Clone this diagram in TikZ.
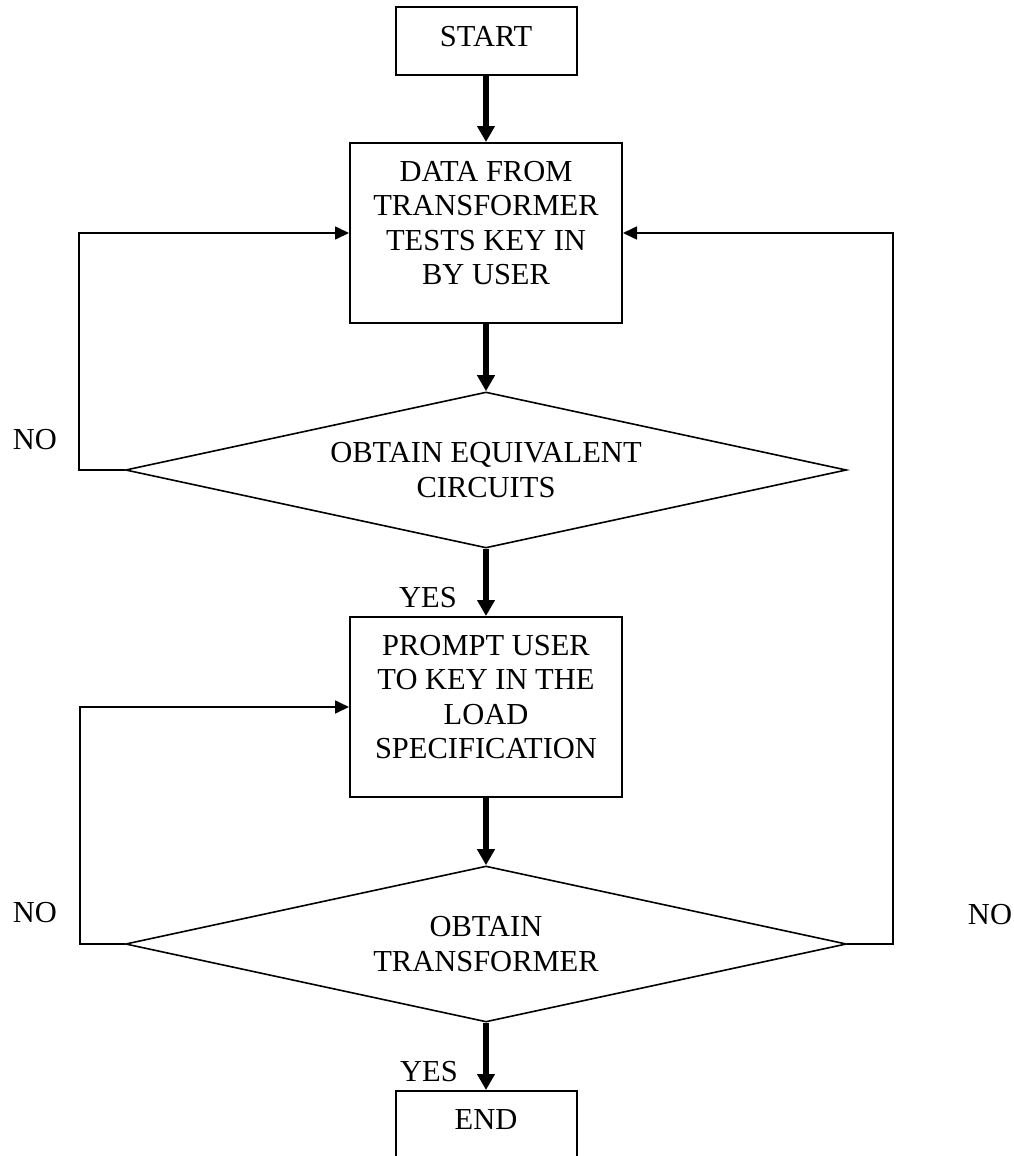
\documentclass[tikz,border=0pt]{standalone}
\usepackage{fontspec}
\setmainfont{Liberation Serif}
\usetikzlibrary{shapes.geometric,arrows.meta}
\newcommand{\dropby}[1]{\rule[-#1]{0pt}{#1}}
\begin{document}
\begin{tikzpicture}[x=1pt,y=-1pt,
  txt/.style={font=\fontsize{30.5}{34.5}\selectfont},
  box/.style={txt,draw,line width=2pt,inner sep=0pt,align=center},
  smallbox/.style={box,minimum width=181pt,minimum height=68pt},
  bigbox/.style={box,minimum width=272pt,minimum height=180pt},
  decision/.style={txt,draw,line width=1.6pt,diamond,aspect=4.62,inner sep=0pt,
    minimum width=721pt,minimum height=156pt,align=center},
  flow/.style={line width=6pt,-{Triangle[length=16pt,width=17pt]}},
  back/.style={line width=1.7pt,-{Triangle[length=14pt,width=13pt]}},
  lbl/.style={txt,inner sep=0pt}
]
\useasboundingbox (0,0) rectangle (1014,1156);

\node[smallbox] (start) at (486,41) {START\dropby{10pt}};
\node[bigbox] (data) at (486,233) {DATA FROM\\TRANSFORMER\\TESTS KEY IN\\BY USER\dropby{20pt}};
\node[decision] (d1) at (486,470) {OBTAIN EQUIVALENT\\CIRCUITS};
\node[bigbox] (prompt) at (486,707) {PROMPT USER\\TO KEY IN THE\\LOAD\\SPECIFICATION\dropby{20pt}};
\node[decision] (d2) at (486,944) {OBTAIN\\TRANSFORMER};
\node[smallbox] (end) at (486,1125) {END\dropby{10pt}};

\node[lbl] (no1) at (35,440) {NO};
\node[lbl] (no2) at (35,913) {NO};
\node[lbl] (no3) at (990,915) {NO};
\node[lbl] (yes1) at (428,598) {YES};
\node[lbl] (yes2) at (429,1072) {YES};

\draw[flow] (start.south) -- (data.north);
\draw[flow] (data.south) -- (d1.north);
\draw[flow] (d1.south) -- (prompt.north);
\draw[flow] (prompt.south) -- (d2.north);
\draw[flow] (d2.south) -- (end.north);

\draw[back] (d1.west) -- ++(-46,0) |- (data.west);
\draw[back] (d2.west) -- ++(-45,0) |- (prompt.west);
\draw[back] (d2.east) -- ++(46,0) |- (data.east);
\end{tikzpicture}
\end{document}
